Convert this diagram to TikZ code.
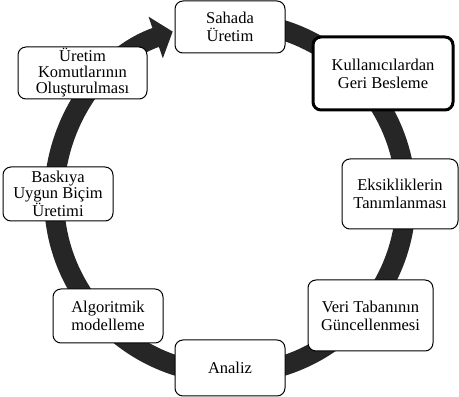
\documentclass[tikz,border=0pt]{standalone}
\usepackage{fontspec}
\setmainfont{Liberation Serif}
\usetikzlibrary{arrows.meta}
\tikzset{
kbox/.style={draw,fill=white,rounded corners=8pt,line width=1pt,align=center,inner sep=1pt},
kboxthick/.style={kbox,line width=3pt},
kboxtight/.style={kbox,font=\fontsize{16.5}{16}\selectfont}
}
\begin{document}
\begin{tikzpicture}[x=1pt,y=1pt,font=\fontsize{16.5}{18}\selectfont]
\pgfmathsetmacro{\kcx}{230}
\pgfmathsetmacro{\kcy}{199}
\pgfmathsetmacro{\krad}{176}
\useasboundingbox(0,0) rectangle (459,397);
% ring with the arrow
\draw[line width=20pt,color=black!85,-{Triangle[width=43pt,length=18pt]}](\kcx,\kcy)++(90:\krad) arc[start angle=90,end angle=-251,radius=\krad];
% steps
\foreach \n/\x/\y/\w/\h/\s/\t in {sahada/230/370/110/52/kbox/{Sahada\\Üretim},
  geri/383/323.5/140/73/kboxthick/{Kullanıcılardan\\Geri Besleme},
  eksik/400/203/116/70/kbox/{Eksikliklerin\\Tanımlanması},
  veri/370.5/81.5/125/71/kbox/{Veri Tabanının\\Güncellenmesi},
  analiz/230/29/110/56/kbox/{Analiz},
  algo/108/81/110/54/kbox/{Algoritmik\\modelleme},
  baski/58/203/110/54/kboxtight/{Baskıya\\Uygun Biçim\\Üretimi},
  komut/82.5/324/129/52/kboxtight/{Üretim\\Komutlarının\\Oluşturulması}}{
  \node[\s,minimum width=\w,minimum height=\h](\n) at (\x,\y){\t};}
\end{tikzpicture}
\end{document}
